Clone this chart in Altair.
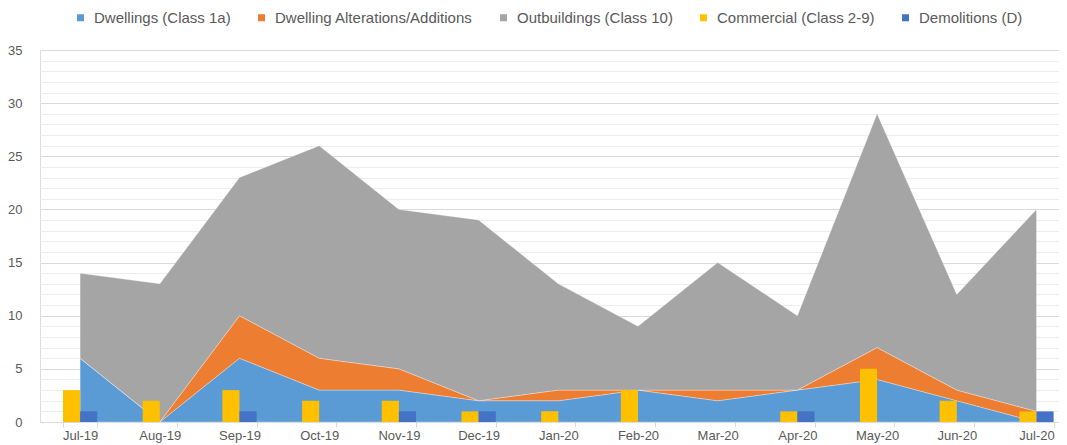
import altair as alt
import pandas as pd

months = ["Jul-19", "Aug-19", "Sep-19", "Oct-19", "Nov-19", "Dec-19", "Jan-20",
          "Feb-20", "Mar-20", "Apr-20", "May-20", "Jun-20", "Jul-20"]
dwellings = [6, 0, 6, 3, 3, 2, 2, 3, 2, 3, 4, 2, 0]
alterations = [0, 0, 4, 3, 2, 0, 1, 0, 1, 0, 3, 1, 1]
outbuildings = [8, 13, 13, 20, 15, 17, 10, 6, 12, 7, 22, 9, 19]
commercial = [3, 2, 3, 2, 2, 1, 1, 3, 0, 1, 5, 2, 1]
demolitions = [1, 0, 1, 0, 1, 1, 0, 0, 0, 1, 0, 0, 1]

series_names = ["Dwellings (Class 1a)", "Dwelling Alterations/Additions",
                "Outbuildings (Class 10)", "Commercial (Class 2-9)", "Demolitions (D)"]
colors = ["#5B9BD5", "#ED7D31", "#A5A5A5", "#FFC000", "#4472C4"]

rows = []
for name, vals in zip(series_names, [dwellings, alterations, outbuildings, commercial, demolitions]):
    for m, v in zip(months, vals):
        rows.append({"month": m, "series": name, "value": v, "order": series_names.index(name)})
df = pd.DataFrame(rows)

FONT = "Liberation Sans"
LBL = "#595959"

color = alt.Color("series:N", scale=alt.Scale(domain=series_names, range=colors),
                  legend=alt.Legend(title=None, orient="none", direction="horizontal",
                                    legendX=33, legendY=-40, symbolType="square",
                                    symbolSize=49, symbolStrokeWidth=0,
                                    labelFont=FONT, labelFontSize=15, labelColor=LBL,
                                    labelLimit=400, columnPadding=23, symbolOffset=0,
                                    labelOffset=6))

xscale = alt.Scale(domain=months, paddingInner=0.57, paddingOuter=0.178, align=0.81)
xaxis = alt.Axis(title=None, labelFont=FONT, labelFontSize=13, labelColor=LBL,
                 labelAngle=0, domainColor="#D9D9D9", tickColor="#D9D9D9",
                 tickSize=5, tickBand="extent", labelPadding=2, grid=False)

yscale = alt.Scale(domain=[0, 35], nice=False)

base = alt.Chart(df)

minor_grid = base.mark_point(opacity=0).encode(
    x=alt.X("month:O", scale=xscale, axis=xaxis, sort=months),
    y=alt.Y("value:Q", scale=yscale,
            axis=alt.Axis(title=None, values=list(range(36)), grid=True, gridColor="#EEEEEE",
                          labels=False, ticks=False, domain=False, orient="left")),
)

areas = base.transform_filter(
    alt.FieldOneOfPredicate(field="series", oneOf=series_names[:3])
).mark_area(stroke="#FFFFFF", strokeWidth=0.6, strokeOpacity=0.5, opacity=1).encode(
    x=alt.X("month:O", scale=xscale, axis=xaxis, sort=months, bandPosition=0.5),
    y=alt.Y("value:Q", stack="zero", scale=yscale,
            axis=alt.Axis(title=None, values=[0, 5, 10, 15, 20, 25, 30, 35], grid=True,
                          gridColor="#D9D9D9", ticks=False, domain=False, orient="left",
                          labelFont=FONT, labelFontSize=13, labelColor=LBL, labelPadding=18)),
    color=color,
    order=alt.Order("order:Q", sort="ascending"),
)

bars = base.transform_filter(
    alt.FieldOneOfPredicate(field="series", oneOf=series_names[3:])
).mark_bar(opacity=1).encode(
    x=alt.X("month:O", scale=xscale, axis=xaxis, sort=months),
    xOffset=alt.XOffset("series:N", scale=alt.Scale(domain=series_names[3:], paddingInner=0, paddingOuter=0)),
    y=alt.Y("value:Q", scale=yscale, axis=None),
    color=color,
)

chart = alt.layer(minor_grid, areas, bars).resolve_axis(y="independent").properties(
    width=1019, height=372,
    autosize=alt.AutoSizeParams(type="none"),
    padding={"left": 32, "top": 42, "right": 0, "bottom": 30},
).configure_view(stroke=None).configure(background="#FFFFFF")

chart.save("out.html", embed_options={"renderer": "svg", "actions": False})
